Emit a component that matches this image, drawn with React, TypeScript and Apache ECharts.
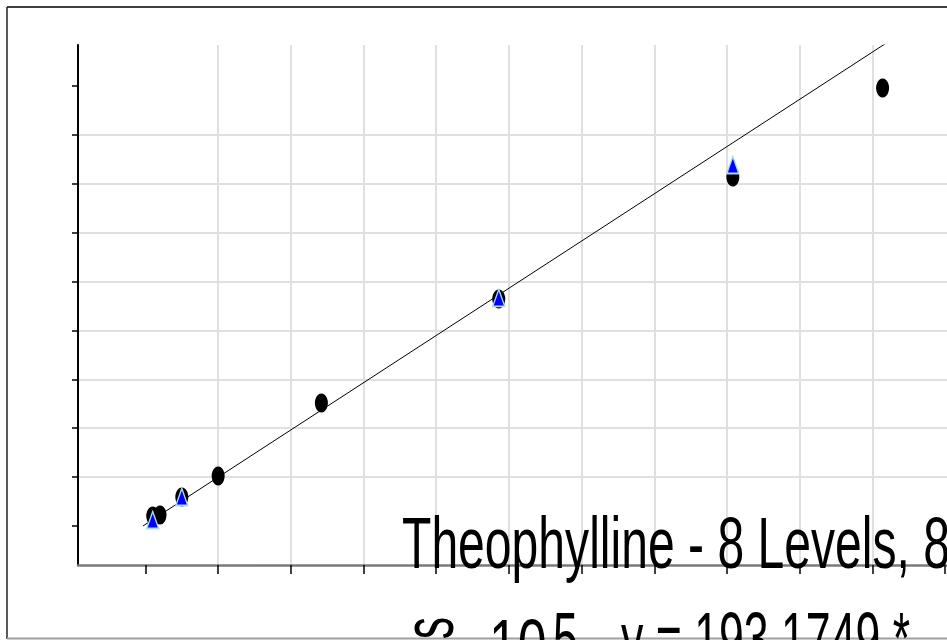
import React, { useEffect, useRef } from "react";
import * as echarts from "echarts";

// Calibration levels (black ellipses)
const levelX = [0.5, 1.0, 2.5, 5.0, 12.1, 24.3, 40.4, 50.7];
const levelY = [204, 225, 593, 1022, 2515, 4642, 7137, 8957];
// Check samples (blue triangles)
const checkX = [0.5, 2.5, 24.3, 40.4];
const checkY = [123, 593, 4663, 7382];
// Fitted line y = 193.1749 * x + 33 (end points)
const fitX = [-0.17, 55];
const fitY = [0, 10657];
// Tick positions
const xTicks = [0, 5, 10, 15, 20, 25, 30, 35, 40, 45, 50, 55];
const yTicks = [0, 1000, 2000, 3000, 4000, 5000, 6000, 7000, 8000, 9000];
// Texts
const titleLine = "Theophylline - 8 Levels, 8";
const rotatedLetter = "s";
const expBase = "10";
const expPower = "5";
const equation = "y = 193.1749 *";

const FONT = "'Liberation Sans', Arial, sans-serif";

export default function App() {
  const ref = useRef<HTMLDivElement>(null);
  useEffect(() => {
    if (!ref.current) return;
    const chart = echarts.init(ref.current, undefined, { renderer: "svg" });
    const levels = levelX.map((x, i) => [x, levelY[i]]);
    const checks = checkX.map((x, i) => [x, checkY[i]]);
    const fit = fitX.map((x, i) => [x, fitY[i]]);
    const sxTitle = 0.668;
    const sx = 0.62;
    chart.setOption({
      animation: false,
      backgroundColor: "#ffffff",
      grid: { left: 78, top: 45, right: 0, bottom: 75, containLabel: false },
      xAxis: {
        type: "value",
        min: -4.64,
        max: 55.13,
        splitNumber: 12,
        axisLine: { show: true, onZero: false, lineStyle: { color: "#7a7a7a", width: 2.5 } },
        axisTick: { show: true, length: 9, customValues: xTicks, lineStyle: { color: "#000", width: 1.5 } },
        axisLabel: { show: false },
        splitLine: { show: true, showMinLine: false, showMaxLine: false, lineStyle: { color: "#e0e0e0", width: 2 } },
      },
      yAxis: {
        type: "value",
        min: -797.5,
        max: 9836,
        splitNumber: 10,
        axisLine: { show: true, onZero: false, lineStyle: { color: "#000", width: 2 } },
        axisTick: { show: true, length: 6, customValues: yTicks, lineStyle: { color: "#000", width: 1.5 } },
        axisLabel: { show: false },
        splitLine: { show: true, showMinLine: false, showMaxLine: false, lineStyle: { color: "#e0e0e0", width: 2 } },
      },
      series: [
        {
          type: "line",
          data: fit,
          symbol: "none",
          clip: true,
          lineStyle: { color: "#000", width: 1 },
          z: 2,
        },
        {
          type: "scatter",
          data: levels,
          symbol: "circle",
          symbolSize: [13, 19],
          itemStyle: { color: "#000", opacity: 1 },
          z: 3,
        },
        {
          type: "scatter",
          data: checks,
          symbol: "triangle",
          symbolSize: [12, 17],
          itemStyle: { color: "#0000ff", borderColor: "#a8dcf0", borderWidth: 1.5, opacity: 1 },
          z: 4,
        },
      ],
      graphic: [
        { type: "line", shape: { x1: 7, y1: 7, x2: 947, y2: 7 }, style: { stroke: "#000", lineWidth: 1.5 } },
        { type: "line", shape: { x1: 7, y1: 7, x2: 7, y2: 639 }, style: { stroke: "#222", lineWidth: 1.5 } },
        { type: "line", shape: { x1: 7, y1: 638.5, x2: 947, y2: 638.5 }, style: { stroke: "#a0a0a0", lineWidth: 2 } },
        {
          type: "text", x: 402, y: 543, scaleX: sxTitle, z: 10,
          style: { text: titleLine, fill: "#000", font: `72px ${FONT}`, align: "left", verticalAlign: "middle" },
        },
        {
          type: "text", x: 428, y: 628, rotation: Math.PI / 2, scaleX: sx, z: 10,
          style: { text: rotatedLetter, fill: "#000", font: `72px ${FONT}`, align: "center", verticalAlign: "middle" },
        },
        {
          type: "text", x: 489, y: 645, scaleX: 0.72, z: 10,
          style: { text: expBase, fill: "#000", font: `72px ${FONT}`, align: "left", verticalAlign: "middle" },
        },
        {
          type: "text", x: 553, y: 638, scaleX: sx, z: 10,
          style: { text: expPower, fill: "#000", font: `72px ${FONT}`, align: "left", verticalAlign: "middle" },
        },
        {
          type: "text", x: 621, y: 638, scaleX: sx, z: 10,
          style: { text: equation, fill: "#000", font: `72px ${FONT}`, align: "left", verticalAlign: "middle" },
        },
      ],
    });
    return () => chart.dispose();
  }, []);
  return (
    <div
      ref={ref}
      style={{ position: "fixed", left: 0, top: 0, width: 947, height: 640 }}
    />
  );
}
